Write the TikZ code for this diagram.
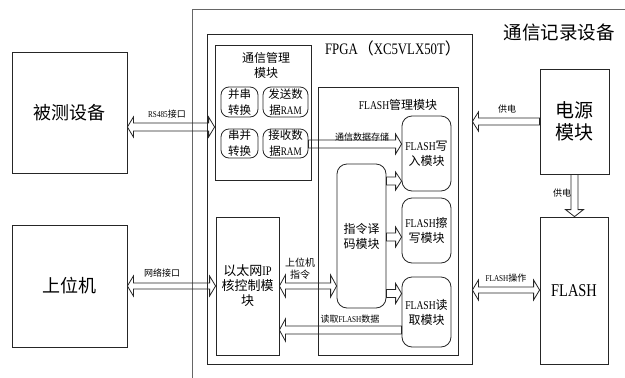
\documentclass[tikz,border=0pt]{standalone}
\usepackage{fontspec}
\setmainfont{Liberation Serif}[FakeStretch=0.8]
\newfontfamily\cjk{Noto Sans CJK SC}
\usetikzlibrary{calc}
\newcommand\zh[1]{{\cjk #1}}
\newcommand\fsz[2]{\fontsize{#1}{#2}\selectfont}
\def\hl{6}
% hollow arrows: anchors by node names
\newcommand\hollowLR[5]{\draw[hol] let \p1=(#1),\p2=(#2),\p3=(0,#3) in
 (\x1,\y3) -- (\x1+\hl,\y3+#5) -- (\x1+\hl,\y3+#4) -- (\x2-\hl,\y3+#4) -- (\x2-\hl,\y3+#5) -- (\x2,\y3)
 -- (\x2-\hl,\y3-#5) -- (\x2-\hl,\y3-#4) -- (\x1+\hl,\y3-#4) -- (\x1+\hl,\y3-#5) -- cycle;}
\newcommand\hollowL[5]{\draw[hol] let \p1=(#1),\p2=(#2),\p3=(0,#3) in
 (\x1,\y3) -- (\x1+\hl,\y3+#5) -- (\x1+\hl,\y3+#4) -- (\x2,\y3+#4) -- (\x2,\y3-#4)
 -- (\x1+\hl,\y3-#4) -- (\x1+\hl,\y3-#5) -- cycle;}
\newcommand\hollowR[5]{\draw[hol] let \p1=(#1),\p2=(#2),\p3=(0,#3) in
 (\x2,\y3) -- (\x2-\hl,\y3+#5) -- (\x2-\hl,\y3+#4) -- (\x1,\y3+#4) -- (\x1,\y3-#4)
 -- (\x2-\hl,\y3-#4) -- (\x2-\hl,\y3-#5) -- cycle;}
\newcommand\hollowD[5]{\draw[hol] let \p1=(#1),\p2=(#2),\p3=(#3,0) in
 (\x3,\y2) -- (\x3+#5,\y2+7) -- (\x3+#4,\y2+7) -- (\x3+#4,\y1) -- (\x3-#4,\y1)
 -- (\x3-#4,\y2+7) -- (\x3-#5,\y2+7) -- cycle;}
\newcommand\bx[7][]{\node[#1, minimum width={#4-#2}, minimum height={#5-#3}] (#6) at ({(#2+#4)/2},{(#3+#5)/2}) {#7};}
\tikzset{
 plain/.style={draw=black!85, line width=0.8pt, inner sep=0pt, align=center},
 rbox/.style={plain, rounded corners=8pt, font=\fsz{11.5}{16}},
 rbig/.style={plain, rounded corners=10pt},
 hol/.style={draw=black!85, line width=0.8pt, line join=miter},
 lbl/.style={inner sep=0pt, align=center},
 small/.style={lbl, font=\fsz{9}{11}},
 mid/.style={font=\fsz{12}{15}},
 big/.style={font=\fsz{18}{22}}
}
\begin{document}
\begin{tikzpicture}[x=1pt,y=-1pt]
\useasboundingbox (0,0) rectangle (625,378);
\begin{scope}
\clip (0,0) rectangle (625,378);
\node[draw=black!60, line width=1pt, minimum width=460, minimum height=400, inner sep=0pt] (dev) at (422,209) {};
\end{scope}
\node[lbl, font=\fsz{18.5}{22}] (devlbl) at (559,32) {\zh{通信记录设备}};
% FPGA
\bx[plain]{207}{34}{472}{364}{fpga}{}
\node[lbl, font=\fsz{16}{18}] (fpgalbl) at (393,48) {FPGA\zh{（}XC5VLX50T\zh{）}};
% communication management
\bx[plain]{215}{45}{311}{180}{comm}{}
\node[lbl, mid] (commlbl) at (266,65) {\zh{通信管理}\\\zh{模块}};
\bx[rbox]{221}{87}{258}{117}{ps}{\zh{并串}\\\zh{转换}}
\bx[rbox]{263}{87}{308}{117}{tx}{\zh{发送数}\\\zh{据}RAM}
\bx[rbox]{221}{129}{258}{158}{sp}{\zh{串并}\\\zh{转换}}
\bx[rbox]{263}{129}{308}{158}{rx}{\zh{接收数}\\\zh{据}RAM}
% FLASH management
\bx[plain]{318}{87}{458}{355}{fm}{}
\node[lbl, mid] (fmlbl) at (398,105) {FLASH\zh{管理模块}};
\bx[rbig, mid]{402}{116}{451}{191}{fw}{FLASH\zh{写}\\\zh{入模块}}
\bx[rbig, mid]{337}{164}{386}{308}{dec}{\zh{指令译}\\\zh{码模块}}
\bx[rbig, mid]{402}{198}{451}{263}{fe}{FLASH\zh{擦}\\\zh{写模块}}
\bx[rbig, mid]{402}{277}{451}{347}{fr}{FLASH\zh{读}\\\zh{取模块}}
% ethernet
\bx[plain, font=\fsz{13}{15}]{216}{217}{279}{355}{eth}{\zh{以太网}IP\\\zh{核控制模}\\\zh{块}}
% external
\bx[plain, big]{12}{52}{127}{173}{dut}{\zh{被测设备}}
\bx[plain, big]{12}{225}{127}{347}{host}{\zh{上位机}}
\bx[plain, font=\fsz{19}{22}]{540}{69}{609}{174}{pwr}{\zh{电源}\\\zh{模块}}
\bx[plain, font=\fsz{18}{22}]{540}{217}{608}{364}{flash}{FLASH}
% arrows
\hollowLR{dut.east}{comm.west}{127}{4}{10}
\node[small] (l485) at (167,114) {RS485\zh{接口}};
\hollowLR{host.east}{eth.west}{286}{3}{10}
\node[small] (lnet) at (162,273) {\zh{网络接口}};
\hollowL{fpga.east}{pwr.west}{121.5}{3.5}{9.5}
\node[small] (lpw1) at (507,109) {\zh{供电}};
\hollowD{pwr.south}{flash.north}{574.5}{3.5}{9}
\node[small] (lpw2) at (562,193) {\zh{供电}};
\hollowLR{fpga.east}{flash.west}{290}{3}{10}
\node[small] (lfop) at (506,278) {FLASH\zh{操作}};
\hollowR{rx.east}{fw.west}{144}{4}{10}
\node[small] (lstore) at (362,137) {\zh{通信数据存储}};
\hollowR{dec.east}{fw.west}{181}{4}{9}
\hollowR{dec.east}{fe.west}{237}{4}{10}
\hollowR{dec.east}{fr.west}{293.5}{4}{10}
\hollowLR{eth.east}{dec.west}{286}{3}{11}
\node[lbl, font=\fsz{10}{12}] (lcmd) at (300,269) {\zh{上位机}\\\zh{指令}};
\hollowL{eth.east}{fr.west}{330}{4}{11}
\node[small] (lread) at (350,319) {\zh{读取}FLASH\zh{数据}};
\end{tikzpicture}
\end{document}
